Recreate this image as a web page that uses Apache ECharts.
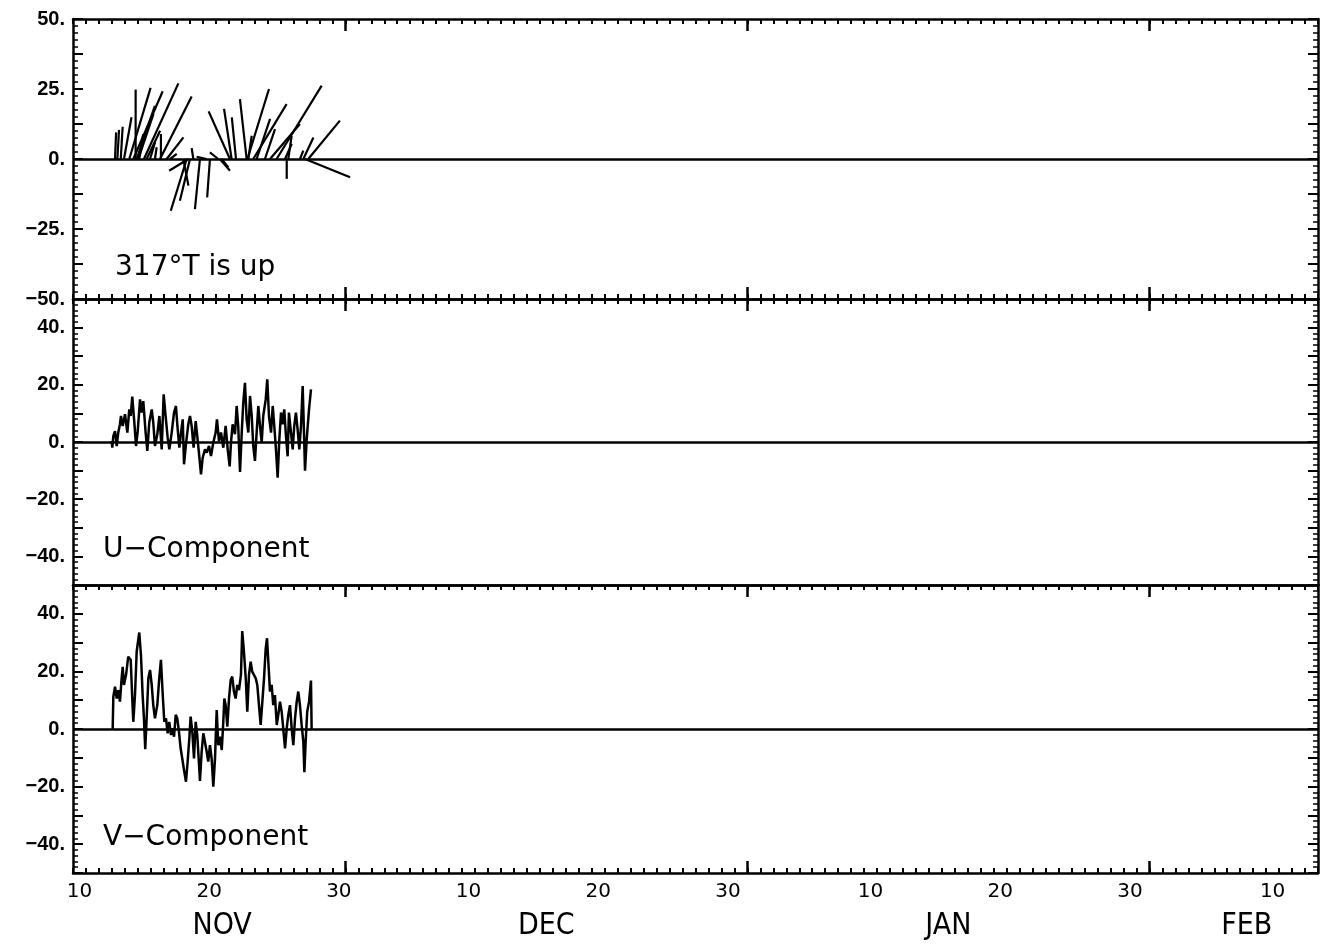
<!DOCTYPE html>
<html><head><meta charset="utf-8">
<script src="https://cdn.jsdelivr.net/npm/echarts@6/dist/echarts.min.js"></script>
<style>html,body{margin:0;padding:0;background:#fff}#c{width:1328px;height:946px}</style>
</head><body><div id="c"></div><script>
// time axis: days since 10 Nov 00:00
const uDay = [2.98,3.03,3.11,3.24,3.37,3.49,3.62,3.70,3.83,4.01,4.19,4.34,4.45,4.57,4.73,4.86,4.99,5.17,5.30,5.42,5.60,5.73,5.88,6.07,6.19,6.32,6.50,6.66,6.84,6.99,7.14,7.30,7.43,7.61,7.79,7.94,8.05,8.20,8.33,8.46,8.56,8.71,8.89,9.02,9.15,9.30,9.46,9.58,9.71,9.87,10.00,10.18,10.31,10.49,10.64,10.82,11.00,11.10,11.26,11.41,11.59,11.77,11.93,12.08,12.18,12.31,12.49,12.62,12.74,12.88,13.01,13.13,13.26,13.39,13.52,13.65,13.78,13.90,14.03,14.16,14.29,14.42,14.55,14.67,14.86,14.98,15.11,15.27,15.40,15.52,15.65,15.78,15.91,16.04,16.17,16.29,16.42,16.55,16.65,16.81,16.94,17.06,17.19,17.32,17.45,17.58,17.71,17.81,17.89,18.02,18.20,18.35];
const uVal = [0.3,-2.0,2.1,3.8,-1.4,3.3,6.2,9.1,5.6,9.7,3.3,11.4,9.1,15.9,6.8,-1.4,3.8,14.9,10.3,14.3,3.3,-3.1,6.8,11.4,6.8,-1.4,2.7,9.1,-2.6,16.7,9.1,1.5,-2.6,3.3,10.3,12.6,5.6,-2.0,3.3,7.9,-7.8,-0.8,6.2,9.1,5.6,-2.0,7.3,2.1,-3.7,-11.3,-5.5,-2.6,-3.7,-1.4,-4.9,-0.2,3.3,7.9,0.3,3.3,-2.0,5.6,-2.6,-8.5,-0.2,6.2,2.7,12.6,5.6,-10.5,3.3,13.8,20.7,7.9,3.3,16.1,9.1,-1.4,-6.6,3.3,12.6,5.6,-0.2,9.1,14.9,21.9,9.1,3.3,12.6,5.6,-2.6,-12.5,0.9,10.3,6.2,11.4,2.1,-5.0,10.3,3.3,-2.6,5.6,10.3,4.4,-2.6,5.6,19.6,3.3,-10.0,0.9,11.4,18.4];
const vDay = [3.06,3.11,3.24,3.37,3.49,3.62,3.75,3.83,3.93,4.09,4.26,4.45,4.57,4.65,4.78,4.91,5.11,5.24,5.37,5.47,5.57,5.68,5.81,5.94,6.07,6.19,6.32,6.50,6.65,6.78,6.92,7.04,7.17,7.30,7.42,7.56,7.69,7.79,7.92,8.04,8.17,8.30,8.46,8.58,8.71,8.84,8.97,9.07,9.20,9.33,9.46,9.58,9.69,9.79,9.92,10.05,10.18,10.31,10.43,10.56,10.69,10.82,10.95,11.08,11.20,11.33,11.47,11.59,11.67,11.77,11.90,12.03,12.16,12.28,12.41,12.54,12.67,12.80,12.95,13.05,13.18,13.32,13.44,13.57,13.70,13.82,13.96,14.09,14.21,14.34,14.47,14.60,14.73,14.86,14.96,15.06,15.19,15.32,15.44,15.57,15.71,15.83,15.96,16.09,16.21,16.35,16.48,16.60,16.73,16.86,16.99,17.12,17.25,17.37,17.50,17.63,17.76,17.84,17.94,18.06,18.20,18.35,18.40];
const vVal = [0,11.2,14.7,10.6,13.5,9.5,17.6,21.6,15.3,18.8,25.1,24.0,10.6,2.5,11.8,26.9,33.5,25.7,11.8,3.7,-7.0,3.7,17.6,20.5,15.3,8.3,3.7,8.3,17.6,24.0,11.8,2.5,3.7,-1.5,2.5,-2.1,0.2,-2.7,4.9,3.7,-0.9,-6.7,-11.3,-14.8,-18.3,-11.3,-3.2,4.3,-0.9,-10.2,2.5,-2.1,-10.2,-18.0,-7.9,-1.5,-0.9,-7.9,-11.3,-5.6,-10.2,-20.0,-10.2,6.6,-5.6,-2.7,-7.3,2.5,10.6,8.3,0.8,10.6,17.0,18.2,13.0,10.6,15.3,13.5,18.8,34.0,26.9,17.6,6.0,18.8,23.4,19.9,19.3,17.6,15.3,8.3,1.4,9.5,17.6,28.0,31.5,23.4,13.0,15.3,8.3,11.8,1.4,4.9,9.5,6.0,0.2,-6.7,0.2,4.9,8.3,0.2,-5.6,3.7,9.5,13.0,8.3,1.4,-4.4,-15.0,-4.4,6.0,9.5,16.8,0];
// stick (vector) plot, 317°T up
const stickDay = [3.24,3.42,3.68,3.93,4.34,4.65,4.83,4.91,5.04,5.11,5.47,5.68,5.94,6.32,6.71,6.78,7.22,7.48,8.51,8.77,8.90,9.02,9.28,9.79,10.31,10.56,11.20,11.33,11.46,12.10,12.23,12.57,13.39,13.45,13.52,13.90,14.16,14.80,15.19,15.70,16.35,16.48,16.60,17.50,17.76,17.89,18.14];
const stickU = [0.4,0.6,0.7,2.7,7.6,10.5,0,6.5,5.4,1.4,12.3,4.8,1.8,0.6,11.3,0,6.0,2.4,1.8,-5.7,-6.9,-3.6,-0.6,-1.8,-3.6,-1.0,-3.0,3.6,2.4,-7.6,-2.7,-1.5,-2.4,7.7,1.2,11.9,4.8,3.6,10.7,16.1,2.4,0,1.2,1.2,3.6,16.1,11.3];
const stickV = [9.5,10.4,11.5,14.9,25.4,24.2,24.8,19.0,16.1,8.9,27.0,10.1,6.0,4.2,22.3,8.9,7.7,1.8,-9.5,-18.5,-4.2,-14.9,3.9,-17.9,0.8,-13.7,2.4,-4.2,-3.0,17.0,17.9,14.9,21.4,25.0,8.3,19.6,14.3,10.7,12.5,26.2,5.4,-7.1,8.3,3.0,7.7,-6.5,13.7];
const dayTickDays = [0.5,10.5,20.5,30.5,40.5,50.5,61.5,71.5,81.5,92.5];
const dayTickLabels = ['10','20','30','10','20','30','10','20','30','10'];
const monthStartDays = [21,52,83];
const monthLabelDays = [11.5,36.5,67.5,90.5];
const monthLabels = ['NOV','DEC','JAN','FEB'];
const panelTitles = ['317°T is up','U\u2212Component','V\u2212Component'];
const yLabelStep = [25,20,20];
const yTickStep = [12.5,10,10];

const chart = echarts.init(document.getElementById('c'), null, {renderer:'canvas'});
const grids = [
  {left:73,right:10,top:19,height:280},
  {left:73,right:10,top:299,height:286},
  {left:73,right:10,top:585,height:288}
];
const BLACK = '#000';
const xAxes = [];
const bottomIdx = [];
function dayAxis(g, pos, showTicks, withLine){
  return {gridIndex:g,type:'value',min:0,max:96,interval:1,position:pos,
    axisLine:{show:withLine,onZero:false,lineStyle:{color:BLACK,width:2.5}},
    axisTick:{show:showTicks,inside:true,length:5,lineStyle:{color:BLACK,width:2}},
    axisLabel:{show:false},splitLine:{show:false}};
}
function monthAxis(g, pos, showTicks){
  return {gridIndex:g,type:'value',min:0,max:96,position:pos,
    axisLine:{show:false,onZero:false},
    axisTick:{show:showTicks,inside:true,length:12,customValues:monthStartDays,lineStyle:{color:BLACK,width:2.5}},
    axisLabel:{show:false},splitLine:{show:false}};
}
for (let g=0; g<3; g++){
  bottomIdx.push(xAxes.length);
  xAxes.push(dayAxis(g,'bottom', g!==1, true));
  xAxes.push(monthAxis(g,'bottom', g!==1));
  xAxes.push(dayAxis(g,'top', true, true));
  xAxes.push(monthAxis(g,'top', true));
}
xAxes.push({gridIndex:2,type:'value',min:0,max:96,position:'bottom',
  axisLine:{show:false,onZero:false},axisTick:{show:false},splitLine:{show:false},
  axisLabel:{customValues:dayTickDays,margin:9,fontSize:20,color:BLACK,fontFamily:'DejaVu Sans',
    formatter:v=>{const i=dayTickDays.findIndex(d=>Math.abs(d-v)<1e-6);return i<0?'':dayTickLabels[i];}}});
xAxes.push({gridIndex:2,type:'value',min:0,max:96,position:'bottom',
  axisLine:{show:false,onZero:false},axisTick:{show:false},splitLine:{show:false},
  axisLabel:{customValues:monthLabelDays,margin:38,fontSize:30,color:BLACK,fontFamily:'Liberation Sans Narrow, DejaVu Sans Condensed, sans-serif',
    formatter:v=>{const i=monthLabelDays.findIndex(d=>Math.abs(d-v)<1e-6);return i<0?'':monthLabels[i];}}});

function fmtY(v){ return (v<0?'\u2212':'')+Math.abs(v)+'.'; }
const yAxes = [];
for (let g=0; g<3; g++){
  const common = {gridIndex:g,type:'value',min:-50,max:50,interval:yTickStep[g],
    axisLine:{show:true,onZero:false,lineStyle:{color:BLACK,width:2.5}},
    axisTick:{show:true,inside:true,length:10,lineStyle:{color:BLACK,width:2}},
    minorTick:{show:true,splitNumber:5,length:5,lineStyle:{color:BLACK,width:1.5}},
    splitLine:{show:false},minorSplitLine:{show:false}};
  yAxes.push(Object.assign({}, common, {position:'left',
    axisLabel:{show:true,margin:8,fontSize:20,fontWeight:'bold',color:BLACK,fontFamily:'Liberation Sans',
      formatter:v=>(Math.abs(v % yLabelStep[g])<1e-9 && !(g>0 && Math.abs(v)===50))?fmtY(v):''}}));
  yAxes.push(Object.assign({}, common, {position:'right',axisLabel:{show:false}}));
}
const zeroLine = {silent:true,symbol:['none','none'],label:{show:false},animation:false,
  lineStyle:{color:BLACK,width:2.5,type:'solid'},emphasis:{disabled:true},data:[{yAxis:0}]};

const titleStyle = {fontSize:28,fontFamily:'DejaVu Sans',fill:BLACK,verticalAlign:'middle'};
const option = {
  animation:false,
  backgroundColor:'#fff',
  grid:grids,
  xAxis:xAxes,
  yAxis:yAxes,
  series:[
    {type:'custom',xAxisIndex:bottomIdx[0],yAxisIndex:0,
     data:stickDay.map((d,i)=>[d,stickU[i],stickV[i]]),
     encode:{x:0,y:2},
     renderItem:function(params, api){
       const t=api.value(0), u=api.value(1), v=api.value(2);
       const base=api.coord([t,0]);
       const one=api.coord([t,1]);
       const k=base[1]-one[1];
       const tipY=api.coord([t,v])[1];
       return {type:'line',shape:{x1:base[0],y1:base[1],x2:base[0]+u*k,y2:tipY},
         style:{stroke:BLACK,lineWidth:2.2}};
     },
     markLine:zeroLine},
    {type:'line',xAxisIndex:bottomIdx[1],yAxisIndex:2,data:uDay.map((d,i)=>[d,uVal[i]]),
     showSymbol:false,symbol:'none',lineStyle:{color:BLACK,width:2.5},itemStyle:{color:BLACK},markLine:zeroLine},
    {type:'line',xAxisIndex:bottomIdx[2],yAxisIndex:4,data:vDay.map((d,i)=>[d,vVal[i]]),
     showSymbol:false,symbol:'none',lineStyle:{color:BLACK,width:2.5},itemStyle:{color:BLACK},markLine:zeroLine}
  ],
  graphic:[
    {type:'text',x:115,y:268,style:Object.assign({text:panelTitles[0]},titleStyle)},
    {type:'text',x:103,y:550,style:Object.assign({text:panelTitles[1]},titleStyle)},
    {type:'text',x:103,y:838,style:Object.assign({text:panelTitles[2]},titleStyle)}
  ]
};
chart.setOption(option);
</script></body></html>
